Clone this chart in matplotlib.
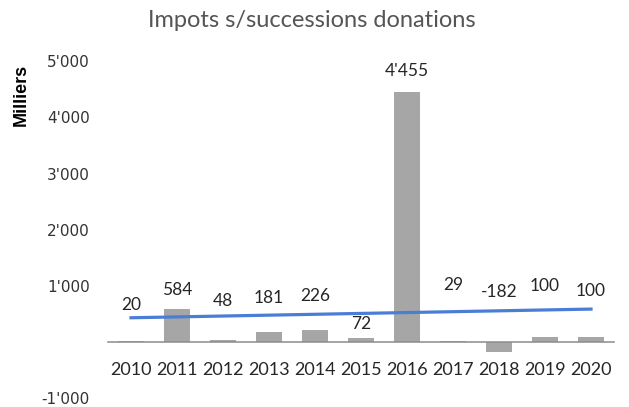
import numpy as np
import matplotlib.pyplot as plt
from matplotlib.ticker import FuncFormatter

# data (milliers)
years = ['2010', '2011', '2012', '2013', '2014', '2015', '2016', '2017', '2018', '2019', '2020']
values = [20, 584, 48, 181, 226, 72, 4455, 29, -182, 100, 100]
value_labels = ['20', '584', '48', '181', '226', '72', "4'455", '29', '-182', '100', '100']

# where the data labels sit (placed by hand in the original)
label_y = [667, 930, 737, 789, 825, 316, 4825, 1018, 895, 1000, 912]

x = np.arange(len(years))

fig = plt.figure(figsize=(6.29, 4.07), dpi=100)
ax = fig.add_axes([0.1717, 0.021, 0.8045, 0.829])

ax.bar(x, values, width=0.58, color='#a6a6a6', zorder=2)

# linear trend
coef = np.polyfit(x, values, 1)
ax.plot(x, np.polyval(coef, x), color='#4a7ed6', lw=2.3, zorder=3)

for xi, yi, txt in zip(x, label_y, value_labels):
    ax.text(xi, yi, txt, ha='center', va='center', fontsize=12.5,
            family='Lato', color='#262626', zorder=4)

ax.set_xlim(-0.5, len(years) - 0.5)
ax.set_ylim(-1000, 5000)
ax.set_yticks([-1000, 0, 1000, 2000, 3000, 4000, 5000])
ax.yaxis.set_major_formatter(FuncFormatter(
    lambda v, p: '' if v == 0 else f"{int(v):,}".replace(',', "'")))
ax.tick_params(axis='y', length=0, pad=13, labelsize=11, labelcolor='#333333')

for s in ['top', 'right', 'left']:
    ax.spines[s].set_visible(False)
ax.spines['bottom'].set_position(('data', 0))
ax.spines['bottom'].set_color('#8c8c8c')
ax.spines['bottom'].set_linewidth(1.1)
ax.set_xticks(x)
ax.set_xticklabels(years, family='Lato', fontsize=13, color='#262626')
ax.tick_params(axis='x', length=0, pad=14)

fig.text(0.034, 0.767, 'Milliers', rotation=90, ha='center', va='center',
         fontsize=13, fontweight='bold', family='Liberation Sans', color='#000000')
fig.text(0.495, 0.95, 'Impots s/successions donations', ha='center', va='center',
         fontsize=17, family='Lato', color='#555555')

fig.savefig('out.png', dpi=100)
